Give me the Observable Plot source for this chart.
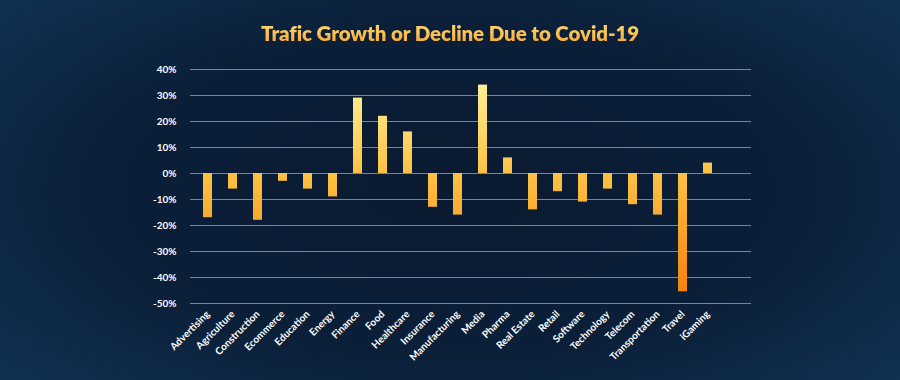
<!DOCTYPE html>
<html><head><meta charset="utf-8">
<script src="https://cdn.jsdelivr.net/npm/d3@7"></script>
<script src="https://cdn.jsdelivr.net/npm/@observablehq/plot@0.6"></script>
<style>
html,body{margin:0;padding:0;}
body{width:900px;height:380px;overflow:hidden;position:relative;
  background: radial-gradient(ellipse 70% 80% at 50% 50%, #0a1a30 0%, #0b1f39 55%, #113456 100%);
  font-family: Lato, "Open Sans", sans-serif;}
#title{position:absolute;top:0;left:0;width:900px;line-height:66px;text-align:center;
  font-size:20.5px;font-weight:800;letter-spacing:-0.1px;
  background:linear-gradient(180deg,#ffe27a 30%,#f59a26 75%);
  -webkit-background-clip:text;background-clip:text;color:transparent;}
#chart{position:absolute;top:55px;left:0;}
</style></head>
<body>
<div id="title">Trafic Growth or Decline Due to Covid-19</div>
<div id="chart"></div>
<script>
const categories = ["Advertising","Agriculture","Construction","Ecommerce","Education","Energy","Finance","Food","Healthcare","Insurance","Manufacturing","Media","Pharma","Real Estate","Retail","Software","Technology","Telecom","Transportation","Travel","iGaming"];
const values = [-17,-6,-18,-3,-6,-9,29,22,16,-13,-16,34,6,-14,-7,-11,-6,-12,-16,-45.5,4];
const yTicks = [40,30,20,10,0,-10,-20,-30,-40,-50];

const data = categories.map((c,i)=>({category:c, value:values[i]}));

const plot = Plot.plot({
  width: 900, height: 325,
  marginLeft: 190, marginRight: 149, marginTop: 14, marginBottom: 77,
  style: {background: "transparent", color: "white", fontFamily: "Lato, 'Open Sans', sans-serif"},
  x: {domain: categories, range: [193, 722], paddingInner: 0.64, paddingOuter: 0.33, label: null},
  y: {domain: [-50, 40], label: null},
  marks: [
    Plot.ruleY(yTicks, {stroke: "#9aaabd", strokeOpacity: 0.75, strokeWidth: 1}),
    Plot.barY(data, {x: "category", y: "value", fill: "url(#barGrad)"}),
    Plot.axisY({ticks: yTicks, tickSize: 0, tickPadding: 14, tickFormat: d => d + "%", fontSize: 10, fontWeight: "bold", fill: "white"}),
    Plot.axisX({tickSize: 0, tickPadding: 9, tickRotate: -45, fontSize: 10, fontWeight: "bold", fill: "white"})
  ]
});
const y = plot.scale("y");
const y0 = y.apply(40), y1 = y.apply(-50), yz = y.apply(0);
const off = (yz - y0) / (y1 - y0);
d3.select(plot).insert("defs", ":first-child").html(
  `<linearGradient id="barGrad" gradientUnits="userSpaceOnUse" x1="0" x2="0" y1="${y0}" y2="${y1}">
     <stop offset="0" stop-color="#fff6a6"/>
     <stop offset="${off}" stop-color="#fcc243"/>
     <stop offset="1" stop-color="#f47c0a"/>
   </linearGradient>`);
document.getElementById("chart").appendChild(plot);
</script>
</body></html>
